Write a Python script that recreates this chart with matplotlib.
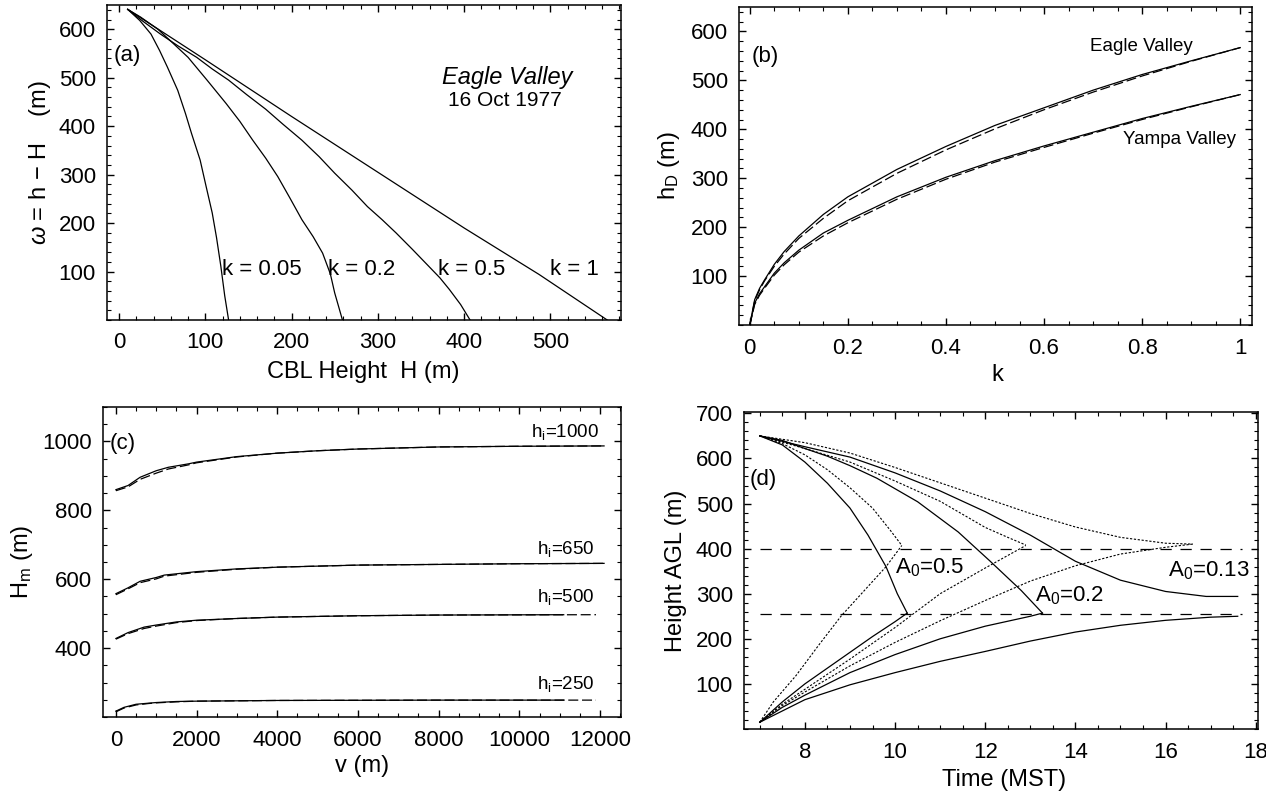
import numpy as np
import matplotlib
matplotlib.use("Agg")
import matplotlib.pyplot as plt
from matplotlib.ticker import MultipleLocator, FixedLocator

plt.rcParams["font.family"] = ["Liberation Sans", "DejaVu Sans"]
plt.rcParams["mathtext.fontset"] = "custom"
plt.rcParams["mathtext.rm"] = "Liberation Sans"
plt.rcParams["mathtext.it"] = "Liberation Sans:italic"
plt.rcParams["mathtext.bf"] = "Liberation Sans:bold"

# ---- (a) omega vs CBL height, one curve per k
k_labels = ["k = 0.05", "k = 0.2", "k = 0.5", "k = 1"]
a_H = [
    [10, 24, 37, 47, 56, 68, 77, 84, 94, 101, 108, 113, 118, 122.5, 127],
    [10, 25, 45, 62, 80, 102, 124, 140, 155, 170, 184, 198, 212, 225, 236, 245, 250, 255, 259],
    [10, 28, 48, 68, 90, 108, 127, 148, 170, 190, 212, 232, 250, 270, 288, 305, 321,
     340, 359, 372, 383, 396, 407],
    [10, 100, 200, 300, 400, 487, 566],
]
a_w = [
    [641, 618, 590, 556, 522, 474, 426, 385, 330, 275, 221, 170, 111, 50, 0],
    [641, 625, 600, 572, 542, 495, 447, 410, 371, 334, 296, 252, 207, 172, 138, 95, 56, 25, 0],
    [641, 616, 590, 566, 542, 518, 495, 465, 435, 404, 371, 337, 303, 268, 234, 207, 180,
     146, 111, 87, 63, 32, 0],
    [641, 537, 420, 305, 190, 94, 0],
]
k_label_pos = [(119, 104), (242, 104), (370, 104), (500, 104)]

# ---- (b) h_D vs k
b_k = [0, 0.01, 0.02, 0.03, 0.05, 0.07, 0.1, 0.15, 0.2, 0.3, 0.4, 0.5, 0.6, 0.7, 0.8, 0.9, 1.0]
b_eagle = [0, 52, 75, 92, 124, 150, 182, 226, 262, 318, 365, 408, 444, 480, 512, 540, 567]
b_eagle_fit = [0, 50, 72, 90, 120, 145, 177, 218, 254, 310, 358, 401, 440, 476, 509, 539, 567]
b_yampa = [0, 45, 64, 78, 106, 127, 153, 188, 214, 262, 302, 336, 366, 394, 422, 447, 471]
b_yampa_fit = [0, 42, 61, 75, 102, 123, 149, 182, 209, 257, 298, 333, 363, 392, 420, 446, 471]

# ---- (c) H_m vs v for several h_i
c_names = ["1000", "650", "500", "250"]
c_v = [
    [0, 300, 600, 1000, 1300, 1800, 2000, 3000, 4000, 5000, 6000, 8000, 10000, 12100],
    [0, 300, 600, 1000, 1200, 2000, 3000, 4000, 6000, 8000, 10000, 12100],
    [0, 300, 700, 1000, 1500, 2000, 3000, 4000, 6000, 8000, 11100],
    [0, 200, 500, 800, 1000, 1500, 2000, 4000, 8000, 11100],
]
c_H = [
    [860, 872, 896, 915, 925, 935, 940, 956, 966, 973, 978, 984, 986, 987],
    [558, 575, 594, 605, 612, 622, 630, 635, 641, 643, 645, 646],
    [428, 445, 461, 467, 476, 481, 486, 490, 494, 496, 497],
    [217, 228, 237, 240, 242, 245, 246, 248, 249, 249],
]
c_v_fit = [
    [0, 300, 600, 1000, 1300, 1800, 2000, 3000, 4000, 5000, 6000, 8000, 10000, 12100],
    [0, 300, 600, 1000, 1200, 2000, 3000, 4000, 6000, 8000, 10000, 12100],
    [0, 300, 700, 1000, 1500, 2000, 3000, 4000, 6000, 8000, 11900],
    [0, 200, 500, 800, 1000, 1500, 2000, 4000, 8000, 11900],
]
c_H_fit = [
    [857, 868, 890, 908, 920, 932, 938, 955, 966, 973, 978, 984, 986, 987],
    [555, 572, 590, 601, 609, 620, 629, 635, 641, 643, 645, 646],
    [426, 442, 457, 464, 474, 480, 486, 490, 494, 496, 497],
    [215, 226, 235, 239, 241, 244, 246, 248, 249, 249],
]
c_label_pos = [(10280, 1027), (10430, 687), (10430, 549), (10430, 297)]

# ---- (d) height vs time
d_labels = ["0.5", "0.2", "0.13"]
d_label_pos = [(10.0, 357), (13.1, 296), (16.05, 350)]
d_top_t = [
    [7.0, 7.5, 8.0, 8.5, 9.0, 9.4, 9.8, 10.05, 10.27],
    [7.0, 7.5, 8.0, 8.5, 9.0, 9.6, 10.5, 11.4, 12.1, 12.8, 13.27],
    [7.0, 8, 9, 10, 11, 12, 13, 14, 15, 16, 16.9, 17.6],
]
d_top_h = [
    [650, 630, 592, 545, 490, 430, 360, 300, 257],
    [650, 640, 622, 605, 584, 556, 504, 437, 373, 307, 257],
    [650, 626, 603, 568, 528, 482, 430, 372, 330, 305, 294, 294],
]
d_bot_t = [
    [7.0, 7.5, 8.0, 8.5, 9.0, 9.5, 10.0, 10.27],
    [7.0, 7.5, 8.0, 9.0, 10.0, 11.0, 12.0, 13.0, 13.27],
    [7.0, 8, 9, 10, 11, 12, 13, 14, 15, 16, 17, 17.6],
]
d_bot_h = [
    [15, 60, 100, 135, 170, 205, 238, 257],
    [15, 48, 75, 125, 165, 200, 228, 250, 257],
    [15, 65, 98, 125, 150, 172, 195, 215, 230, 241, 248, 250],
]
d_dtop_t = [
    [7.0, 7.5, 8.0, 8.5, 9.0, 9.5, 9.9, 10.15],
    [7.0, 8, 9, 10, 11, 12, 12.5, 12.9],
    [7.0, 8, 9, 10, 11, 12, 13, 14, 15, 16, 16.6],
]
d_dtop_h = [
    [650, 633, 608, 575, 535, 490, 440, 407],
    [650, 622, 592, 550, 505, 447, 425, 408],
    [650, 635, 612, 580, 546, 512, 478, 448, 425, 412, 410],
]
d_dbot_t = [
    [7.0, 7.3, 7.8, 8.3, 8.8, 9.3, 9.8, 10.15],
    [7.0, 7.5, 8.0, 9.0, 10.0, 11.0, 12.0, 12.9],
    [7.0, 7.5, 8, 9, 10, 11, 12, 13, 14, 15, 16, 16.6],
]
d_dbot_h = [
    [15, 60, 118, 185, 250, 305, 360, 407],
    [15, 55, 88, 155, 225, 300, 357, 407],
    [15, 52, 82, 140, 192, 240, 285, 328, 362, 388, 403, 410],
]
d_levels = [400, 255]
d_level_span = [7.0, 17.7]

W, H = 1266, 798
fig = plt.figure(figsize=(W / 100, H / 100), dpi=100)


def box(l, r, t, b):
    return [l / W, 1 - b / H, (r - l) / W, (b - t) / H]


def style(ax, xmaj, xmin, ymaj, ymin):
    ax.xaxis.set_major_locator(FixedLocator(xmaj))
    ax.xaxis.set_minor_locator(MultipleLocator(xmin))
    ax.yaxis.set_major_locator(FixedLocator(ymaj))
    ax.yaxis.set_minor_locator(MultipleLocator(ymin))
    ax.tick_params(which="both", direction="in", top=True, right=True,
                   labelsize=16, colors="black")
    ax.tick_params(which="major", length=5, width=1)
    ax.tick_params(which="minor", length=3, width=0.8)
    ax.tick_params(axis="x", pad=9)
    ax.tick_params(axis="y", pad=8)
    for s in ax.spines.values():
        s.set_linewidth(1.1)


LW = 0.9

# (a)
ax = fig.add_axes(box(107, 621, 5, 320))
for xs, ys in zip(a_H, a_w):
    ax.plot(xs, ys, color="black", lw=LW)
for lab, (x, y) in zip(k_labels, k_label_pos):
    ax.text(x, y, lab, fontsize=16, ha="left", va="center")
ax.text(450, 501, "Eagle Valley", fontsize=17, style="italic", ha="center", va="center")
ax.text(447, 453, "16 Oct 1977", fontsize=15, ha="center", va="center")
ax.text(0.012, 0.841, "(a)", transform=ax.transAxes, fontsize=16, va="center")
ax.set_xlim(-14, 582)
ax.set_ylim(0, 650)
style(ax, range(0, 600, 100), 20, range(100, 700, 100), 20)
ax.set_xlabel("CBL Height  H (m)", fontsize=17)
ax.set_ylabel("$\\omega$ = h − H    (m)", fontsize=17)
ax.xaxis.set_label_coords(0.498, -0.130)
ax.yaxis.set_label_coords(-0.105, 0.5)

# (b)
ax = fig.add_axes(box(739, 1252, 7, 325))
ax.plot(b_k, b_eagle, color="black", lw=LW)
ax.plot(b_k, b_eagle_fit, color="black", lw=LW, dashes=(8, 3))
ax.plot(b_k, b_yampa, color="black", lw=LW)
ax.plot(b_k, b_yampa_fit, color="black", lw=LW, dashes=(8, 3))
ax.text(0.694, 569, "Eagle Valley", fontsize=13.5, ha="left", va="center")
ax.text(0.761, 379, "Yampa Valley", fontsize=13.5, ha="left", va="center")
ax.text(0.025, 0.845, "(b)", transform=ax.transAxes, fontsize=16, va="center")
ax.set_xlim(-0.022, 1.024)
ax.set_ylim(0, 650)
style(ax, [0, 0.2, 0.4, 0.6, 0.8, 1.0], 0.05, range(100, 700, 100), 20)
ax.set_xticklabels(["0", "0.2", "0.4", "0.6", "0.8", "1"])
ax.set_xlabel("k", fontsize=17)
ax.set_ylabel("h$_\\mathrm{D}$ (m)", fontsize=17)
ax.xaxis.set_label_coords(0.503, -0.123)
ax.yaxis.set_label_coords(-0.111, 0.5)

# (c)
ax = fig.add_axes(box(103, 621, 407, 717))
for xs, ys in zip(c_v_fit, c_H_fit):
    ax.plot(xs, ys, color="black", lw=LW, dashes=(8, 3))
for xs, ys in zip(c_v, c_H):
    ax.plot(xs, ys, color="black", lw=LW)
for name, (x, y) in zip(c_names, c_label_pos):
    ax.text(x, y, "h$_\\mathrm{i}$=" + name, fontsize=13.5, ha="left", va="center")
ax.text(0.013, 0.883, "(c)", transform=ax.transAxes, fontsize=16, va="center")
ax.set_xlim(-320, 12520)
ax.set_ylim(200, 1100)
style(ax, range(0, 14000, 2000), 500, range(400, 1200, 200), 50)
ax.set_xlabel("v (m)", fontsize=17)
ax.set_ylabel("H$_\\mathrm{m}$ (m)", fontsize=17)
ax.xaxis.set_label_coords(0.5, -0.123)
ax.yaxis.set_label_coords(-0.132, 0.5)

# (d)
ax = fig.add_axes(box(744, 1258, 412, 729))
for lvl in d_levels:
    ax.plot(d_level_span, [lvl, lvl], color="black", lw=LW, dashes=(9, 7))
for xs, ys in zip(d_top_t, d_top_h):
    ax.plot(xs, ys, color="black", lw=LW)
for xs, ys in zip(d_bot_t, d_bot_h):
    ax.plot(xs, ys, color="black", lw=LW)
for xs, ys in zip(d_dtop_t, d_dtop_h):
    ax.plot(xs, ys, color="black", lw=0.8, dashes=(2, 1.5))
for xs, ys in zip(d_dbot_t, d_dbot_h):
    ax.plot(xs, ys, color="black", lw=0.8, dashes=(2, 1.5))
for lab, (x, y) in zip(d_labels, d_label_pos):
    ax.text(x, y, "A$_0$=" + lab, fontsize=16, ha="left", va="center")
ax.text(0.011, 0.788, "(d)", transform=ax.transAxes, fontsize=16, va="center")
ax.set_xlim(6.65, 18.05)
ax.set_ylim(0, 703)
style(ax, range(8, 20, 2), 0.5, range(100, 800, 100), 20)
ax.set_xlabel("Time (MST)", fontsize=17)
ax.set_ylabel("Height AGL (m)", fontsize=17)
ax.xaxis.set_label_coords(0.505, -0.126)
ax.yaxis.set_label_coords(-0.111, 0.5)

fig.savefig("out.png", dpi=100)
